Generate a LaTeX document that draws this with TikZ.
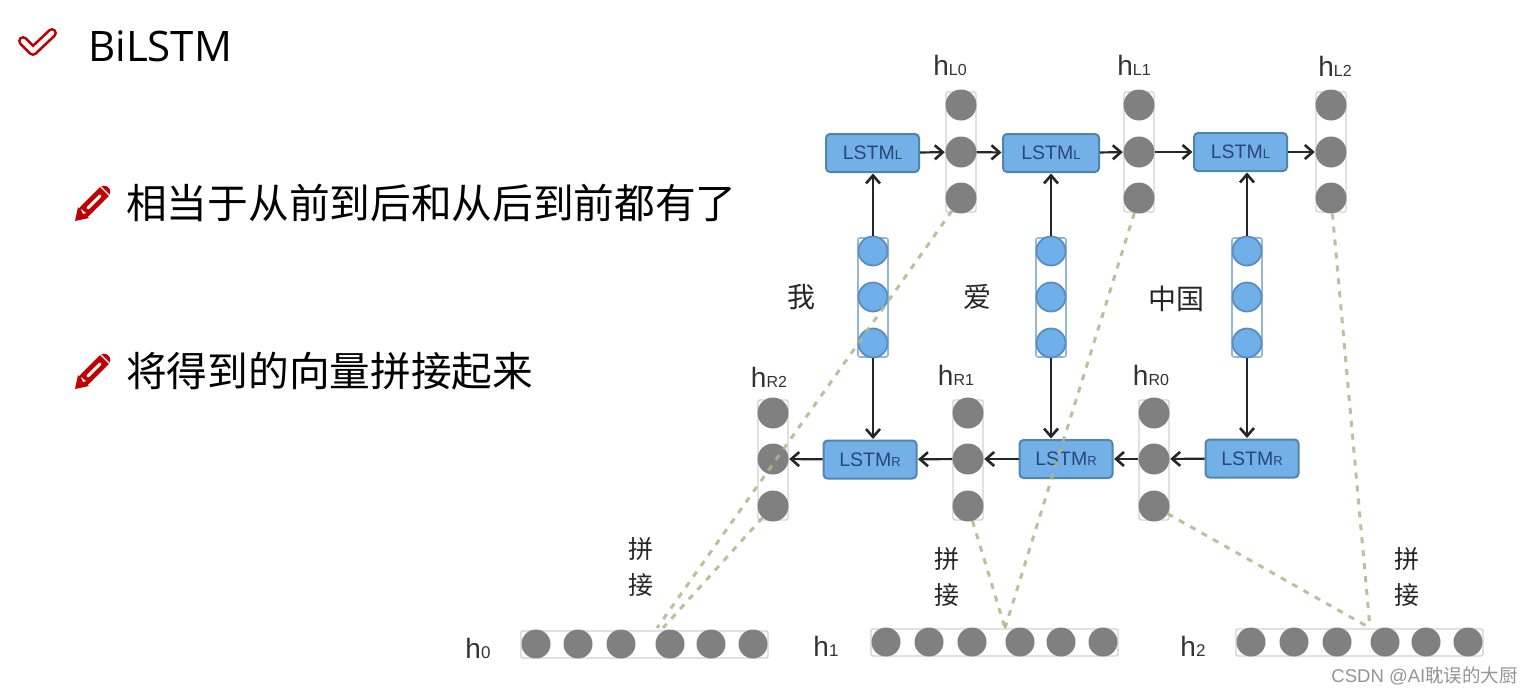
\documentclass[tikz,border=0pt]{standalone}
\usepackage{fontspec}
\setmainfont{Open Sans}
\newfontfamily\cjk{Noto Sans CJK SC}
\newfontfamily\lab{Liberation Sans}
\usetikzlibrary{arrows.meta}
\definecolor{iconred}{HTML}{C00000}
\definecolor{dotgray}{HTML}{808080}
\definecolor{framegray}{HTML}{D2D2D2}
\definecolor{boxblue}{HTML}{74B0E8}
\definecolor{boxedge}{HTML}{4F86AC}
\definecolor{dotblue}{HTML}{6FB0EA}
\definecolor{dotedge}{HTML}{5C8DBE}
\definecolor{frameblue}{HTML}{94B8CE}
\definecolor{textblue}{HTML}{27477A}
\definecolor{joinolive}{HTML}{ACB88A}
\tikzset{
  x=1pt,y=-1pt,
  graydot/.style={circle,fill=dotgray,draw=none,minimum size=31pt,inner sep=0pt},
  bluedot/.style={circle,fill=dotblue,draw=dotedge,line width=1.8pt,minimum size=29pt,inner sep=0pt},
  grayframe/.style={draw=framegray,line width=1.4pt,rounded corners=2pt},
  blueframe/.style={draw=frameblue,line width=1.6pt,fill=white,rounded corners=2pt},
  lstmbox/.style={draw=boxedge,line width=2pt,fill=boxblue,rounded corners=4pt,minimum width=93pt,minimum height=38pt,inner sep=0pt,text=textblue,font=\lab\fontsize{19.5}{20}\selectfont},
  flow/.style={draw=black!85,line width=2.2pt,-{Straight Barb[length=8pt,width=14pt,line width=2.6pt]},shorten >=0.5pt},
  joinline/.style={draw=joinolive,line width=3pt,dash pattern=on 6pt off 7pt,opacity=.85},
  headline/.style={anchor=west,inner sep=0pt,font=\fontsize{42}{50}\selectfont},
  bodyline/.style={anchor=west,inner sep=0pt,font=\cjk\fontsize{40.7}{46}\selectfont},
  wordlabel/.style={inner sep=0pt,text=black!85,font=\cjk\fontsize{28}{30}\selectfont},
  joinlabel/.style={inner sep=0pt,text=black!85,font=\cjk\fontsize{25}{28}\selectfont},
  hlabel/.style={inner sep=0pt,text=black!80,font=\lab\fontsize{28}{32}\selectfont},
  pencilicon/.pic={
    \fill[iconred] (-1,1) -- (2,-13) -- (13,-2) -- cycle;
    \draw[iconred,line width=12.5pt,line cap=round] (9,-9) -- (28,-28);
    \draw[white,line width=3pt,line cap=round] (12,-12) -- (24,-24);
    \draw[white,line width=1.4pt] (24.5,-33.5) -- (33.5,-24.5);
    \fill[white] (5,-11) -- (10,-7) -- (7,-6) -- cycle;
  }
}
\newcommand{\hname}[2]{h{\fontsize{16}{16}\selectfont #1#2}}
\newcommand{\lstmname}[1]{LSTM{\fontsize{13}{14}\selectfont #1}}
\begin{document}
\begin{tikzpicture}
\useasboundingbox (0,0) rectangle (1532,696);
\fill[white] (0,0) rectangle (1532,696);

% icons and text on the left
\draw[iconred,line width=10pt,line cap=round,line join=round] (23,41) -- (33,51) -- (52,33);
\draw[white,line width=4.6pt,line cap=round,line join=round] (23,41) -- (33,51) -- (52,33);
\node[headline] (title) at (88,46) {BiLSTM};
\pic at (76,220) {pencilicon};
\node[bodyline] (lineone) at (126,203) {相当于从前到后和从后到前都有了};
\pic at (76,388) {pencilicon};
\node[bodyline] (linetwo) at (126,371) {将得到的向量拼接起来};

% frames
\foreach \x/\ya/\yb in {961/92/212,1139/92/212,1331/92/212,773/400/520,968/400/520,1154/400/520}
  \draw[grayframe] (\x-15,\ya) rectangle (\x+15,\yb);
\foreach \x in {873,1051,1247}
  \draw[blueframe] (\x-15,238) rectangle (\x+15,357);
\draw[grayframe] (521,631) rectangle (768,658);
\draw[grayframe] (871,629) rectangle (1118,656);
\draw[grayframe] (1236,629) rectangle (1483,656);

% dot columns
\foreach \n/\x in {la/961,lb/1139,lc/1331}{
  \node[graydot] (\n1) at (\x,105) {};
  \node[graydot] (\n2) at (\x,152) {};
  \node[graydot] (\n3) at (\x,198) {};
}
\foreach \n/\x in {ra/1154,rb/968,rc/773}{
  \node[graydot] (\n1) at (\x,413) {};
  \node[graydot] (\n2) at (\x,459) {};
  \node[graydot] (\n3) at (\x,506) {};
}
\foreach \n/\x in {wa/873,wb/1051,wc/1247}{
  \node[bluedot] (\n1) at (\x,251) {};
  \node[bluedot] (\n2) at (\x,297) {};
  \node[bluedot] (\n3) at (\x,343) {};
}

% concatenated vectors
\foreach \i/\x in {1/536,2/578,3/621,4/670,5/711,6/753}
  \node[graydot,minimum size=29pt] (za\i) at (\x,644) {};
\foreach \i/\x in {1/886,2/929,3/972,4/1020,5/1061,6/1103}
  \node[graydot,minimum size=29pt] (zb\i) at (\x,642) {};
\foreach \i/\x in {1/1251,2/1294,3/1337,4/1385,5/1426,6/1468}
  \node[graydot,minimum size=29pt] (zc\i) at (\x,642) {};

% LSTM boxes
\node[lstmbox] (lbox1) at (872.5,153) {\lstmname{L}\hspace{5pt}};
\node[lstmbox,minimum width=96pt] (lbox2) at (1051,153) {\lstmname{L}\hspace{8pt}};
\node[lstmbox] (lbox3) at (1240.5,152) {\lstmname{L}\hspace{5pt}};
\node[lstmbox] (rbox1) at (870,459.5) {\lstmname{R}\hspace{5pt}};
\node[lstmbox] (rbox2) at (1066,459) {\lstmname{R}\hspace{5pt}};
\node[lstmbox] (rbox3) at (1252,458.5) {\lstmname{R}\hspace{5pt}};

% arrows
\draw[flow] (lbox1) -- (la2);
\draw[flow] (la2) -- (lbox2);
\draw[flow] (lbox2) -- (lb2);
\draw[flow] (lb2) -- (lbox3);
\draw[flow] (lbox3) -- (lc2);
\draw[flow] (wa1) -- (wa1 |- lbox1.south);
\draw[flow] (wb1) -- (wb1 |- lbox2.south);
\draw[flow] (wc1) -- (wc1 |- lbox3.south);
\draw[flow] (wa3) -- (wa3 |- rbox1.north);
\draw[flow] (wb3) -- (wb3 |- rbox2.north);
\draw[flow] (wc3) -- (wc3 |- rbox3.north);
\draw[flow] (rbox3) -- (ra2);
\draw[flow] (ra2) -- (rbox2);
\draw[flow] (rbox2) -- (rb2);
\draw[flow] (rb2) -- (rbox1);
\draw[flow] (rbox1) -- (rc2);

% join lines
\coordinate (ja) at (657,628);
\coordinate (jb) at (663,628);
\coordinate (jc) at (1005,628);
\coordinate (jd) at (1370,628);
\draw[joinline] (la3) -- (ja);
\draw[joinline] (rc3) -- (jb);
\draw[joinline] (rb3) -- (jc);
\draw[joinline] (lb3) -- (jc);
\draw[joinline] (ra3) -- (jd);
\draw[joinline] (lc3) -- (jd);

% labels
\node[hlabel] (tla) at (950,65) {\hname{L}{0}};
\node[hlabel] (tlb) at (1134,65) {\hname{L}{1}};
\node[hlabel] (tlc) at (1335,66) {\hname{L}{2}};
\node[hlabel] (tra) at (1151,375) {\hname{R}{0}};
\node[hlabel] (trb) at (956,375) {\hname{R}{1}};
\node[hlabel] (trc) at (769,377) {\hname{R}{2}};
\node[hlabel] (tza) at (478,648) {h{\fontsize{17}{17}\selectfont 0}};
\node[hlabel] (tzb) at (826,646) {h{\fontsize{17}{17}\selectfont 1}};
\node[hlabel] (tzc) at (1193,646) {h{\fontsize{17}{17}\selectfont 2}};
\node[wordlabel] (wone) at (801,297) {我};
\node[wordlabel] (wtwo) at (977,297) {爱};
\node[wordlabel] (wthree) at (1176,299) {中国};
\node[joinlabel] (ca) at (641,549) {拼};
\node[joinlabel] (cb) at (641,585) {接};
\node[joinlabel] (cc) at (947,559) {拼};
\node[joinlabel] (cd) at (947,595) {接};
\node[joinlabel] (ce) at (1407,559) {拼};
\node[joinlabel] (cf) at (1407,595) {接};
\node[anchor=east,inner sep=0pt,text=black!42,font=\fontsize{18.5}{20}\selectfont] (mark) at (1518,676) {\lab CSDN @AI\cjk 耽误的大厨};
\end{tikzpicture}
\end{document}
